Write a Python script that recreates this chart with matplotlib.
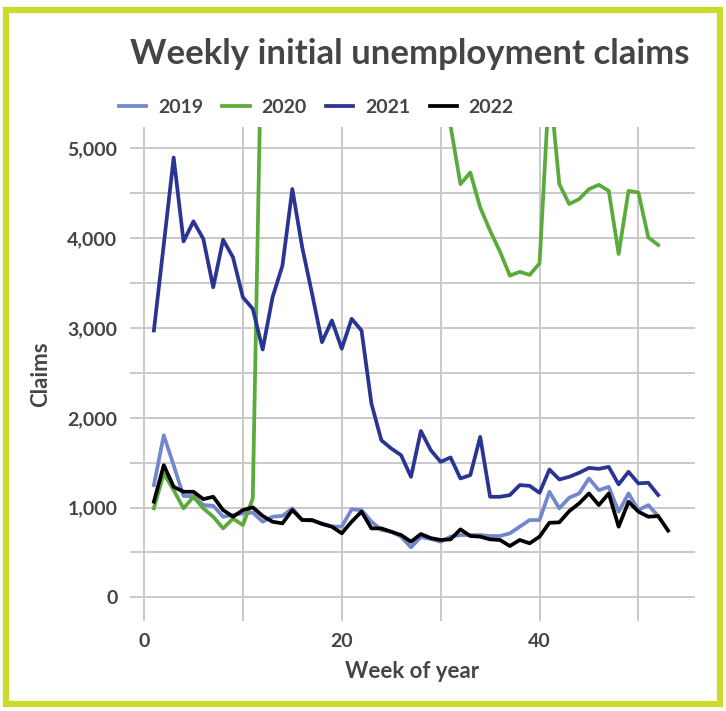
import numpy as np
import matplotlib
matplotlib.use("Agg")
import matplotlib.pyplot as plt
from matplotlib.patches import Rectangle
from matplotlib.ticker import MultipleLocator, FuncFormatter

# weekly claims
weeks_52 = list(range(1, 53))
weeks_53 = list(range(1, 54))

claims_2019 = [1250, 1805, 1470, 1128, 1128, 1028, 1020, 898, 916, 935,
               944, 842, 898, 907, 991, 861, 855, 824, 790, 787,
               980, 972, 843, 750, 731, 676, 557, 672, 650, 620,
               676, 694, 694, 694, 683, 683, 713, 787, 861, 861,
               1176, 991, 1110, 1157, 1324, 1194, 1231, 954, 1157, 972,
               1028, 905]

# weeks 12-30 run far above the visible range
claims_2020 = [991, 1380, 1194, 991, 1120, 991, 898, 768, 877, 805,
               1102, 7000, 38000, 52000, 41000, 33000, 26000, 21000, 17000, 14000,
               12500, 11000, 9800, 9000, 8500, 8000, 7600, 7200, 6800, 6400,
               5250, 4602, 4731, 4342, 4083, 3850, 3583, 3625, 3591, 3720,
               5750, 4602, 4380, 4435, 4546, 4594, 4527, 3824, 4527, 4508,
               4008, 3924]

claims_2021 = [2972, 3930, 4898, 3964, 4187, 3991, 3453, 3983, 3787, 3342,
               3213, 2760, 3342, 3694, 4547, 3898, 3380, 2842, 3083, 2769,
               3102, 2972, 2158, 1750, 1658, 1583, 1342, 1853, 1639, 1509,
               1558, 1324, 1361, 1787, 1120, 1120, 1139, 1250, 1242, 1164,
               1424, 1313, 1342, 1387, 1442, 1431, 1453, 1258, 1398, 1269,
               1276, 1139]

claims_2022 = [1065, 1472, 1231, 1176, 1176, 1094, 1120, 972, 898, 972,
               1002, 907, 842, 824, 972, 861, 861, 817, 787, 713,
               843, 954, 768, 768, 731, 694, 620, 705, 660, 639,
               646, 757, 683, 676, 646, 639, 572, 639, 602, 676,
               831, 835, 960, 1046, 1157, 1028, 1157, 787, 1065, 954,
               898, 905, 743]

series = [
    ("2019", weeks_52, claims_2019, "#7388cc"),
    ("2020", weeks_52, claims_2020, "#5aab3c"),
    ("2021", weeks_52, claims_2021, "#2a3493"),
    ("2022", weeks_53, claims_2022, "#000000"),
]

plt.rcParams['font.family'] = ['Lato', 'DejaVu Sans']
text_col = "#454545"

fig = plt.figure(figsize=(7.26, 7.11), dpi=100)
fig.patches.append(Rectangle((0.0085, 0.0105), 0.983, 0.975, transform=fig.transFigure,
                             fill=False, edgecolor="#cbdb2a", linewidth=4.5))

ax = fig.add_axes([0.179, 0.127, 0.778, 0.694])

for label, x, y, color in series:
    ax.plot(x, y, color=color, linewidth=2.7, label=label)

ax.set_xlim(-1.42, 55.7)
ax.set_ylim(-260, 5235)
ax.xaxis.set_major_locator(MultipleLocator(20))
ax.xaxis.set_minor_locator(MultipleLocator(10))
ax.yaxis.set_major_locator(MultipleLocator(1000))
ax.yaxis.set_minor_locator(MultipleLocator(500))
ax.yaxis.set_major_formatter(FuncFormatter(lambda v, p: f"{int(v):,}"))
ax.grid(True, which="both", color="#c9c9c9", linewidth=1.4)
ax.set_axisbelow(True)
for s in ax.spines.values():
    s.set_visible(False)
ax.tick_params(which="both", length=0, labelsize=14, labelcolor=text_col, pad=9)
for t in ax.get_xticklabels() + ax.get_yticklabels():
    t.set_fontweight("bold")

ax.set_xlabel("Week of year", fontsize=16, color=text_col, fontweight="bold", labelpad=8)
ax.set_ylabel("Claims", fontsize=16, color=text_col, fontweight="bold", labelpad=12)

fig.text(0.564, 0.924, "Weekly initial unemployment claims", ha="center", va="center",
         fontsize=25, color=text_col, fontweight="bold")

leg = ax.legend(loc="lower left", bbox_to_anchor=(-0.04, 1.0), ncol=4, frameon=False,
                fontsize=14, handlelength=1.4, handletextpad=0.6, columnspacing=1.0,
                labelcolor=text_col, borderaxespad=0.2)
for t in leg.get_texts():
    t.set_fontweight("bold")

fig.savefig("out.png", dpi=100)
